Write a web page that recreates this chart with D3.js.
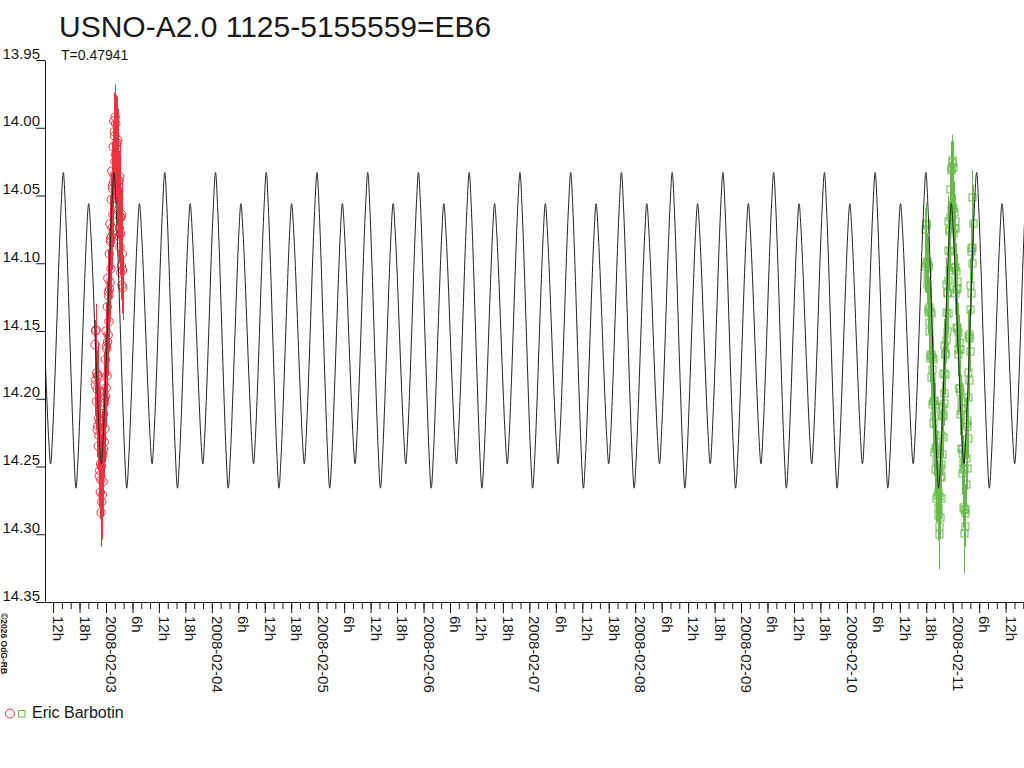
<!DOCTYPE html>
<html><head><meta charset="utf-8">
<script src="https://cdn.jsdelivr.net/npm/d3@7"></script>
<style>body{margin:0;background:#fff}svg{display:block}text{font-family:"Liberation Sans",Arial,sans-serif;fill:#1a1a1a}</style>
</head><body>
<svg id="c" width="1024" height="768"></svg>
<script>
// ---- data ----
const title = "USNO-A2.0 1125-5155559=EB6";
const periodLabel = "T=0.47941";
const period = 0.47941;            // days
const epochMax = 499.0966;         // JD-2454000 of primary maximum
const xDomainJD = [498.9237, 508.1735]; // JD-2454000
const yTicks = [13.95, 14.00, 14.05, 14.10, 14.15, 14.20, 14.25, 14.30, 14.35];
const yDomain = [13.95, 14.35];
// fitted light curve, one cycle sampled in phase (24 samples from primary maximum)
const phaseMags = [14.033, 14.059, 14.101, 14.150, 14.198, 14.240, 14.266, 14.243, 14.205, 14.161, 14.117, 14.079,
                   14.056, 14.077, 14.111, 14.152, 14.192, 14.227, 14.248, 14.224, 14.186, 14.141, 14.095, 14.057];
const observer = "Eric Barbotin";
const copyright = "\u00a92026 OdG-RB";

// red series (JD-2454000, mag, error)
const redTimes = [499.3960,499.3987,499.4013,499.4040,499.4066,499.4093,499.4119,499.4146,499.4172,499.4199,
  499.4225,499.4252,499.4278,499.4305,499.4331,499.4358,499.4384,499.4411,499.4437,499.4464,
  499.4490,499.4517,499.4543,499.4570,499.4596,499.4623,499.4649,499.4676,499.4702,499.4729,
  499.4755,499.4782,499.4808,499.4835,499.4861,499.4888,499.4914,499.4941,499.4967,499.4994,
  499.5020,499.5047,499.5073,499.5100,499.5126,499.5153,499.5179,499.5206,499.5232,499.5259,
  499.5285,499.5312,499.5338,499.5365,499.5391,499.5418,499.5444,499.5471,499.5497,499.5524,
  499.5550,499.5577,499.5603,499.5630,499.5656,499.5683,499.5709,499.5736,499.5762,499.5789,
  499.5815,499.5842,499.5868,499.5895,499.5921,499.5948,499.5974,499.6001,499.6027,499.6054,
  499.6080,499.6107,499.6133,499.6160,499.6186,499.6213,499.6239,499.6266,499.6292,499.6319,
  499.6345,499.6372,499.6398,499.6425,499.6451,499.6478,499.6504,499.6531,499.6557,499.6584];
const redMags = [14.160,14.190,14.150,14.186,14.149,14.202,14.181,14.193,14.223,14.183,
  14.220,14.183,14.235,14.214,14.227,14.257,14.217,14.253,14.216,14.269,
  14.248,14.260,14.284,14.250,14.276,14.229,14.271,14.240,14.242,14.261,
  14.211,14.237,14.189,14.232,14.200,14.203,14.222,14.171,14.198,14.150,
  14.192,14.161,14.163,14.183,14.132,14.158,14.111,14.153,14.121,14.124,
  14.143,14.093,14.119,14.071,14.114,14.082,14.084,14.104,14.053,14.080,
  14.032,14.074,14.043,14.045,14.064,14.014,14.040,13.995,14.035,14.003,
  14.006,14.025,13.992,14.020,13.997,14.034,14.012,14.023,14.052,14.011,
  14.047,14.009,14.061,14.039,14.051,14.080,14.039,14.074,14.036,14.088,
  14.066,14.078,14.107,14.066,14.102,14.064,14.116,14.093,14.105,14.118];
const redErrs = [0.018,0.022,0.020,0.025,0.019,0.021,0.017,0.023,0.020,0.024,
  0.019,0.022,0.018,0.026,0.020,0.023,0.019,0.021,0.024,0.020,
  0.022,0.019,0.025,0.021,0.028,0.020,0.023,0.018,0.022,0.026,
  0.019,0.021,0.024,0.018,0.022,0.020,0.025,0.019,0.023,0.021,
  0.018,0.024,0.020,0.022,0.019,0.025,0.021,0.018,0.023,0.020,
  0.022,0.019,0.024,0.021,0.018,0.023,0.020,0.022,0.019,0.025,
  0.021,0.018,0.023,0.020,0.024,0.019,0.022,0.021,0.018,0.025,
  0.022,0.020,0.024,0.019,0.021,0.023,0.018,0.022,0.020,0.034,
  0.019,0.023,0.021,0.018,0.024,0.020,0.022,0.019,0.023,0.021,
  0.018,0.024,0.020,0.022,0.019,0.025,0.021,0.023,0.020,0.024];

// green series (JD-2454000, mag, error)
const greenTimes = [507.238,507.241,507.244,507.247,507.250,507.253,507.256,507.259,507.262,507.265,
  507.268,507.271,507.274,507.277,507.280,507.283,507.286,507.289,507.292,507.295,
  507.298,507.301,507.304,507.307,507.310,507.313,507.316,507.319,507.322,507.325,
  507.328,507.331,507.334,507.337,507.340,507.343,507.346,507.349,507.352,507.355,
  507.358,507.361,507.364,507.367,507.370,507.373,507.376,507.379,507.382,507.385,
  507.388,507.391,507.394,507.397,507.400,507.403,507.406,507.409,507.412,507.415,
  507.418,507.421,507.424,507.427,507.430,507.433,507.436,507.439,507.442,507.445,
  507.448,507.451,507.454,507.457,507.460,507.463,507.466,507.469,507.472,507.475,
  507.478,507.481,507.484,507.487,507.490,507.493,507.496,507.499,507.502,507.505,
  507.508,507.511,507.514,507.517,507.520,507.523,507.526,507.529,507.532,507.535,
  507.538,507.541,507.544,507.547,507.550,507.553,507.556,507.559,507.562,507.565,
  507.568,507.571,507.574,507.577,507.580,507.583,507.586,507.589,507.592,507.595,
  507.598,507.601,507.604,507.607,507.610,507.613,507.616,507.619,507.622,507.625,
  507.628,507.631,507.634,507.637,507.640,507.643,507.646,507.649,507.652,507.655,
  507.658,507.661,507.664,507.667,507.670,507.673,507.676,507.679,507.682,507.685,
  507.688];
const greenMags = [14.075,14.102,14.070,14.100,14.072,14.115,14.098,14.109,14.136,14.101,
  14.134,14.103,14.150,14.132,14.143,14.170,14.135,14.168,14.137,14.184,
  14.167,14.178,14.204,14.169,14.202,14.171,14.218,14.201,14.212,14.239,
  14.204,14.236,14.205,14.252,14.235,14.246,14.273,14.238,14.271,14.240,
  14.286,14.269,14.280,14.300,14.272,14.294,14.251,14.287,14.258,14.257,
  14.273,14.227,14.248,14.206,14.241,14.213,14.212,14.228,14.181,14.203,
  14.160,14.196,14.167,14.166,14.182,14.136,14.157,14.115,14.150,14.122,
  14.121,14.137,14.090,14.112,14.069,14.105,14.076,14.075,14.091,14.045,
  14.066,14.030,14.059,14.031,14.024,14.058,14.025,14.059,14.029,14.078,
  14.062,14.074,14.103,14.069,14.103,14.074,14.122,14.106,14.119,14.147,
  14.113,14.148,14.118,14.167,14.151,14.163,14.192,14.158,14.192,14.163,
  14.211,14.195,14.208,14.236,14.202,14.237,14.207,14.255,14.240,14.252,
  14.280,14.247,14.281,14.251,14.299,14.284,14.281,14.294,14.244,14.263,
  14.218,14.251,14.220,14.216,14.229,14.180,14.199,14.154,14.186,14.155,
  14.152,14.165,14.116,14.134,14.089,14.122,14.091,14.088,14.100,14.051,
  14.070];
const greenErrs = [0.016,0.019,0.014,0.022,0.017,0.015,0.020,0.018,0.016,0.021,
  0.015,0.019,0.017,0.022,0.016,0.018,0.020,0.015,0.019,0.017,
  0.021,0.016,0.018,0.015,0.020,0.017,0.019,0.016,0.022,0.018,
  0.015,0.020,0.017,0.019,0.016,0.021,0.018,0.015,0.020,0.017,
  0.019,0.022,0.018,0.026,0.020,0.017,0.021,0.016,0.019,0.018,
  0.015,0.020,0.017,0.019,0.016,0.021,0.018,0.015,0.020,0.017,
  0.019,0.016,0.022,0.018,0.015,0.020,0.017,0.019,0.016,0.021,
  0.018,0.015,0.020,0.017,0.019,0.016,0.022,0.018,0.015,0.020,
  0.017,0.019,0.016,0.021,0.018,0.015,0.020,0.017,0.019,0.016,
  0.022,0.018,0.015,0.020,0.017,0.019,0.016,0.021,0.018,0.015,
  0.020,0.017,0.019,0.016,0.022,0.018,0.015,0.020,0.017,0.019,
  0.016,0.021,0.018,0.015,0.020,0.017,0.019,0.016,0.022,0.018,
  0.015,0.020,0.017,0.019,0.030,0.021,0.018,0.015,0.020,0.017,
  0.019,0.016,0.022,0.018,0.015,0.020,0.017,0.019,0.016,0.021,
  0.018,0.015,0.020,0.017,0.019,0.016,0.022,0.018,0.015,0.020,
  0.028];

// ---- helpers ----
const feb3 = Date.UTC(2008, 1, 3);
const jdToDate = jd => new Date(feb3 + (jd - 499.5) * 864e5);

const svg = d3.select("#c");
const W = 1024;
const x = d3.scaleUtc().domain(xDomainJD.map(jdToDate)).range([45, W]);
const y = d3.scaleLinear().domain(yDomain).range([60, 602]);

const red = "#ee3340", green = "#66bb4a", ink = "#1a1a1a";

// title
svg.append("text").attr("x", 59).attr("y", 37).attr("font-size", 30).text(title);
svg.append("text").attr("x", 61).attr("y", 60).attr("font-size", 14).text(periodLabel);

// clip
svg.append("clipPath").attr("id", "plot").append("rect").attr("x", 45).attr("y", 0).attr("width", W - 45).attr("height", 603);

// error bars & markers
const gData = svg.append("g").attr("clip-path", "url(#plot)");
function series(times, mags, errs, color, shape) {
  const pts = times.map((t, i) => ({ t: jdToDate(t), m: mags[i], e: errs[i] }));
  gData.append("g").selectAll("line").data(pts).join("line")
    .attr("x1", d => Math.round(x(d.t)) + 0.5).attr("x2", d => Math.round(x(d.t)) + 0.5)
    .attr("y1", d => y(d.m - d.e)).attr("y2", d => y(d.m + d.e))
    .attr("stroke", color).attr("stroke-width", 1);
  const g = gData.append("g");
  if (shape === "circle") {
    g.selectAll("circle").data(pts).join("circle")
      .attr("cx", d => x(d.t)).attr("cy", d => y(d.m)).attr("r", 4.2)
      .attr("fill", "none").attr("stroke", color).attr("stroke-width", 1);
  } else {
    g.selectAll("rect").data(pts).join("rect")
      .attr("x", d => Math.round(x(d.t)) - 3).attr("y", d => Math.round(y(d.m)) - 3)
      .attr("width", 7).attr("height", 7)
      .attr("fill", "none").attr("stroke", color).attr("stroke-width", 1);
  }
}
series(redTimes, redMags, redErrs, red, "circle");
series(greenTimes, greenMags, greenErrs, green, "square");

// fitted curve: the tabulated cycle repeated every period
const curvePts = [];
const n0 = Math.floor((xDomainJD[0] - epochMax) / period) - 1;
const n1 = Math.ceil((xDomainJD[1] - epochMax) / period) + 1;
for (let n = n0; n <= n1; n++) {
  phaseMags.forEach((m, k) => {
    curvePts.push({ t: jdToDate(epochMax + (n + k / phaseMags.length) * period), m });
  });
}
svg.append("path").attr("clip-path", "url(#plot)")
  .attr("d", d3.line().curve(d3.curveMonotoneX).x(d => x(d.t)).y(d => y(d.m))(curvePts))
  .attr("fill", "none").attr("stroke", "#222").attr("stroke-width", 1);

// y axis
const ya = svg.append("g").attr("transform", "translate(45,0)")
  .call(d3.axisLeft(y).tickValues(yTicks).tickFormat(d3.format(".2f")).tickSize(9).tickSizeOuter(0));
ya.attr("font-family", null).attr("font-size", null);
ya.selectAll("path,line").attr("stroke", ink);
ya.selectAll("text").attr("x", -5).attr("y", -2).attr("dy", 0).attr("font-size", 15).attr("fill", ink);

// x axis: minor ticks every 2 h, major (labelled) every 6 h
const xMinor = svg.append("g").attr("transform", "translate(0,602)")
  .call(d3.axisBottom(x).ticks(d3.utcHour.every(2)).tickFormat("").tickSize(7).tickSizeOuter(0));
xMinor.selectAll("path,line").attr("stroke", ink);
const xMajor = svg.append("g").attr("transform", "translate(0,602)")
  .call(d3.axisBottom(x).ticks(d3.utcHour.every(6))
    .tickFormat(d => d.getUTCHours() === 0 ? d3.utcFormat("%Y-%m-%d")(d) : d.getUTCHours() + "h")
    .tickSize(11).tickSizeOuter(0));
xMajor.attr("font-family", null).attr("font-size", null);
xMajor.selectAll("path,line").attr("stroke", ink);
xMajor.selectAll("text").attr("x", 0).attr("y", 0).attr("dy", 0)
  .attr("transform", "translate(-0.5,14) rotate(90)").attr("text-anchor", "start")
  .attr("font-size", 15).attr("fill", ink);

// copyright
svg.append("text").attr("transform", "translate(1,613) rotate(90)")
  .attr("font-size", 8.5).attr("font-weight", "bold").text(copyright);

// legend
svg.append("circle").attr("cx", 10).attr("cy", 713.5).attr("r", 4.5)
  .attr("fill", "none").attr("stroke", red).attr("stroke-width", 1);
svg.append("rect").attr("x", 18.5).attr("y", 710.5).attr("width", 6.5).attr("height", 6.5)
  .attr("fill", "none").attr("stroke", green).attr("stroke-width", 1);
svg.append("text").attr("x", 32).attr("y", 718).attr("font-size", 16).text(observer);
</script>
</body></html>
